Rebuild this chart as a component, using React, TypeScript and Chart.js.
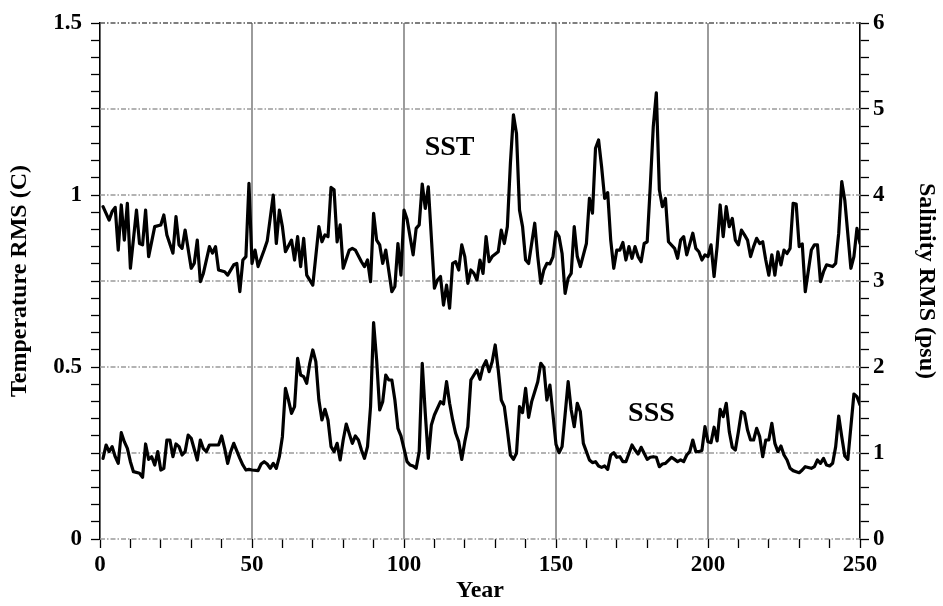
import React, { useEffect, useRef } from 'react';
import { Chart, registerables } from 'chart.js';

Chart.register(...registerables);

// ---------- data ----------
const sstYears = [
  1, 3, 4, 5, 6, 7, 8, 9, 10, 12, 13, 14, 15, 16, 18, 20, 21, 22, 24, 25, 26, 27, 28, 30, 31, 32, 33, 34, 36, 37, 38, 39,
  41, 42, 44, 45, 46, 47, 48, 49, 50, 51, 52, 54, 55, 57, 58, 59, 60, 61, 63, 64, 65, 66, 67, 68, 70, 72, 73, 74, 75, 76,
  77, 78, 79, 80, 82, 83, 84, 86, 87, 88, 89, 90, 91, 92, 93, 94, 96, 97, 98, 99, 100, 101, 103, 104, 105, 106, 107, 108,
  110, 111, 112, 113, 114, 115, 116, 117, 118, 119, 120, 121, 122, 123, 124, 125, 126, 127, 128, 129, 131, 132, 133, 134,
  135, 136, 137, 138, 139, 140, 141, 143, 144, 145, 146, 147, 148, 149, 150, 151, 152, 153, 154, 155, 156, 157, 158, 160,
  161, 162, 163, 164, 165, 166, 167, 168, 169, 170, 171, 172, 173, 174, 175, 176, 177, 178, 179, 180, 181, 182, 183, 184,
  185, 186, 187, 189, 190, 191, 192, 193, 195, 196, 197, 198, 199, 200, 201, 202, 203, 204, 205, 206, 207, 208, 209, 210,
  211, 212, 213, 214, 215, 216, 217, 218, 219, 220, 221, 222, 223, 224, 225, 226, 227, 228, 229, 230, 231, 232, 234, 235,
  236, 237, 238, 239, 241, 242, 243, 244, 245, 247, 248, 249, 250,
];
const sstValues = [
  0.966, 0.927, 0.952, 0.964, 0.84, 0.971, 0.869, 0.976, 0.787, 0.956, 0.859, 0.855, 0.956, 0.821, 0.908, 0.913, 0.942,
  0.884, 0.831, 0.937, 0.855, 0.845, 0.898, 0.787, 0.801, 0.869, 0.748, 0.772, 0.85, 0.831, 0.85, 0.782,
  0.777, 0.767, 0.797, 0.801, 0.719, 0.811, 0.821, 1.034, 0.801, 0.84, 0.792, 0.84, 0.866, 1.0, 0.859, 0.956, 0.908,
  0.835, 0.869, 0.811, 0.879, 0.792, 0.874, 0.767, 0.738, 0.908, 0.864, 0.884, 0.879, 1.022,
  1.015, 0.864, 0.913, 0.787, 0.84, 0.845, 0.84, 0.806, 0.792, 0.811, 0.748, 0.947, 0.869, 0.855, 0.801, 0.84, 0.719,
  0.734, 0.859, 0.767, 0.956, 0.93, 0.826, 0.903, 0.913, 1.032, 0.961, 1.024,
  0.729, 0.753, 0.763, 0.68, 0.738, 0.671, 0.801, 0.806, 0.782, 0.855, 0.821, 0.743, 0.782, 0.772, 0.753, 0.811, 0.772,
  0.879, 0.806, 0.821, 0.835, 0.898, 0.859, 0.908,
  1.092, 1.233, 1.179, 0.956, 0.908, 0.811, 0.801, 0.918, 0.821, 0.743, 0.782, 0.801, 0.8, 0.82, 0.893, 0.879, 0.83,
  0.714, 0.758, 0.772, 0.908, 0.821, 0.792, 0.859,
  0.99, 0.947, 1.136, 1.16, 1.082, 0.99, 1.007, 0.869, 0.787, 0.84, 0.84, 0.862, 0.811, 0.85, 0.816, 0.85, 0.821, 0.806,
  0.859, 0.864, 1.024, 1.199, 1.297, 1.015,
  0.966, 0.99, 0.864, 0.845, 0.816, 0.869, 0.879, 0.826, 0.889, 0.845, 0.835, 0.811, 0.826, 0.821, 0.855, 0.763, 0.85,
  0.971, 0.879, 0.966, 0.908, 0.932, 0.869, 0.855,
  0.898, 0.884, 0.869, 0.821, 0.85, 0.874, 0.859, 0.864, 0.811, 0.767, 0.826, 0.767, 0.835, 0.797, 0.84, 0.83, 0.845,
  0.976, 0.974, 0.85, 0.858, 0.719, 0.84, 0.855,
  0.855, 0.748, 0.777, 0.797, 0.792, 0.801, 0.889, 1.039, 0.985, 0.787, 0.821, 0.903, 0.859,
];

const sssYears = [
  1, 2, 3, 4, 5, 6, 7, 8, 9, 10, 11, 13, 14, 15, 16, 17, 18, 19, 20, 21, 22, 23, 24, 25, 26, 27, 28, 29, 30, 32, 33, 34,
  35, 36, 37, 39, 40, 41, 42, 43, 44, 46, 47, 48, 49, 50, 52, 53, 54, 55, 56, 57, 58, 59, 60, 61, 62, 63, 64, 65, 66, 67,
  68, 69, 70, 71, 72, 73, 74, 75, 76, 77, 78, 79, 80, 81, 83, 84, 85, 86, 87, 88, 89, 90, 91, 92, 93, 94, 95, 96, 97, 98,
  99, 100, 101, 102, 103, 104, 105, 106, 107, 108, 109, 110, 112, 113, 114, 115, 116, 117, 118, 119, 120, 121, 122, 123,
  124, 125, 126, 127, 128, 129, 130, 131, 132, 133, 134, 135, 136, 137, 138, 139, 140, 141, 142, 143, 144, 145, 146, 147,
  148, 149, 150, 151, 152, 153, 154, 155, 156, 157, 158, 159, 160, 161, 162, 163, 164, 165, 166, 167, 168, 169, 170, 171,
  172, 173, 175, 176, 177, 178, 179, 180, 181, 182, 183, 184, 185, 186, 188, 189, 190, 191, 192, 193, 194, 195, 196, 197,
  198, 199, 200, 201, 202, 203, 204, 205, 206, 207, 208, 209, 210, 211, 212, 213, 214, 215, 216, 217, 218, 219, 220, 221,
  222, 223, 224, 225, 226, 227, 228, 229, 230, 231, 232, 234, 235, 236, 237, 238, 239, 240, 241, 242, 243, 244, 245, 246,
  248, 249, 250,
];
const sssValues = [
  0.938, 1.093, 1.016, 1.074, 0.957, 0.88, 1.236, 1.132, 1.054, 0.899, 0.783, 0.764, 0.717, 1.105, 0.926, 0.957, 0.86,
  1.016, 0.802, 0.822, 1.151, 1.151, 0.957, 1.105, 1.074, 0.977, 1.016, 1.209, 1.171, 0.919, 1.151, 1.05,
  1.016, 1.093, 1.093, 1.093, 1.198, 1.054, 0.88, 1.016, 1.112, 0.938, 0.86, 0.802, 0.81, 0.802, 0.795, 0.872, 0.899,
  0.872, 0.822, 0.88, 0.822, 0.957, 1.19, 1.752, 1.616, 1.461, 1.539, 2.101, 1.907, 1.888,
  1.81, 2.043, 2.198, 2.062, 1.616, 1.384, 1.508, 1.384, 1.074, 1.016, 1.112, 0.919, 1.151, 1.337, 1.112, 1.198, 1.151,
  1.035, 0.938, 1.074, 1.539, 2.516, 2.081, 1.5, 1.597, 1.907, 1.849, 1.849, 1.616, 1.287,
  1.2, 1.05, 0.9, 0.86, 0.849, 0.822, 1.016, 2.043, 1.461, 0.938, 1.326, 1.442, 1.597, 1.57, 1.829, 1.578, 1.384, 1.229,
  1.132, 0.926, 1.132, 1.306, 1.849, 1.907,
  1.965, 1.857, 2.004, 2.074, 1.946, 2.062, 2.256, 1.965, 1.616, 1.539, 1.267, 0.977, 0.926, 0.996, 1.539, 1.469, 1.752,
  1.415, 1.597, 1.713, 1.829, 2.043, 1.996, 1.616,
  1.79, 1.45, 1.1, 1.004, 1.074, 1.45, 1.83, 1.5, 1.306, 1.578, 1.481, 1.112, 1.016, 0.919, 0.888, 0.899, 0.849, 0.833,
  0.849, 0.81, 0.977, 1.004, 0.95, 0.957,
  0.899, 0.899, 1.093, 1.035, 0.988, 1.066, 0.996, 0.926, 0.95, 0.957, 0.95, 0.841, 0.872, 0.88, 0.95, 0.926, 0.899,
  0.919, 0.899, 0.977, 1.016, 1.151, 1.016, 1.016,
  1.03, 1.306, 1.13, 1.12, 1.3, 1.14, 1.508, 1.422, 1.578, 1.248, 1.066, 1.035, 1.248, 1.481, 1.461, 1.267, 1.151, 1.151,
  1.287, 1.19, 0.957, 1.151, 1.151, 1.345,
  1.112, 1.016, 1.081, 0.977, 0.919, 0.822, 0.795, 0.783, 0.771, 0.802, 0.841, 0.822, 0.841, 0.919, 0.88, 0.938, 0.86,
  0.849, 0.88, 1.074, 1.43, 1.19, 0.965, 0.926,
  1.686, 1.655, 1.558,
];

const xMin = 0;
const xMax = 250;
const leftMin = 0;
const leftMax = 1.5;
const rightMin = 0;
const rightMax = 6;
const horizontalGuideLevels = [0, 0.25, 0.5, 0.75, 1, 1.25, 1.5];
const verticalGuideYears = [50, 100, 150, 200];

const annotationTexts = ['SST', 'SSS'];
const annotationX = [115, 181.4];
const annotationY = [1.138, 1.46];
const annotationAxis = ['y', 'y2'];

const FONT = '"Liberation Serif", "Times New Roman", Times, serif';

export default function App() {
  const canvasRef = useRef<HTMLCanvasElement | null>(null);

  useEffect(() => {
    const canvas = canvasRef.current;
    if (!canvas) return;

    const guides = {
      id: 'guides',
      beforeDatasetsDraw(chart: any) {
        const { ctx, chartArea: ca, scales } = chart;
        ctx.save();
        ctx.setLineDash([]);
        ctx.strokeStyle = '#666666';
        ctx.lineWidth = 1.3;
        for (const yr of verticalGuideYears) {
          const x = scales.x.getPixelForValue(yr);
          ctx.beginPath();
          ctx.moveTo(x, ca.top);
          ctx.lineTo(x, ca.bottom);
          ctx.stroke();
        }
        ctx.lineWidth = 1.5;
        ctx.setLineDash([5, 2, 1.5, 2]);
        for (const v of horizontalGuideLevels) {
          const y = scales.y.getPixelForValue(v);
          ctx.strokeStyle = v === leftMax ? '#555555' : '#9a9a9a';
          ctx.beginPath();
          ctx.moveTo(ca.left, y);
          ctx.lineTo(ca.right, y);
          ctx.stroke();
        }
        ctx.restore();
      },
      afterDatasetsDraw(chart: any) {
        const { ctx, scales } = chart;
        ctx.save();
        ctx.fillStyle = '#000';
        ctx.font = `bold 28px ${FONT}`;
        ctx.textAlign = 'center';
        ctx.textBaseline = 'middle';
        annotationTexts.forEach((t, i) => {
          const x = scales.x.getPixelForValue(annotationX[i]);
          const y = scales[annotationAxis[i]].getPixelForValue(annotationY[i]);
          ctx.fillText(t, x, y);
        });
        ctx.restore();
      },
    };

    const tickFont = { family: FONT, size: 23, weight: 'bold' as const };
    const titleFont = { family: FONT, size: 24, weight: 'bold' as const };

    const chart = new Chart(canvas, {
      type: 'line',
      data: {
        datasets: [
          {
            label: 'SST',
            data: sstYears.map((x, i) => ({ x, y: sstValues[i] })),
            yAxisID: 'y',
            borderColor: '#000',
            borderWidth: 3.2,
            pointRadius: 0,
            tension: 0,
            borderJoinStyle: 'round',
            borderCapStyle: 'round',
          },
          {
            label: 'SSS',
            data: sssYears.map((x, i) => ({ x, y: sssValues[i] })),
            yAxisID: 'y2',
            borderColor: '#000',
            borderWidth: 3.2,
            pointRadius: 0,
            tension: 0,
            borderJoinStyle: 'round',
            borderCapStyle: 'round',
          },
        ],
      },
      options: {
        animation: false,
        responsive: false,
        devicePixelRatio: 1,
        layout: { padding: { top: 23, left: 0, right: 0, bottom: 0 } },
        plugins: { legend: { display: false }, tooltip: { enabled: false } },
        scales: {
          x: {
            type: 'linear',
            position: 'bottom',
            min: xMin,
            max: xMax,
            afterFit: (s: any) => { s.height = 67; },
            ticks: {
              stepSize: 10,
              autoSkip: false,
              maxRotation: 0,
              minRotation: 0,
              color: '#000',
              font: tickFont,
              padding: 3,
              callback: (v: any) => (Number(v) % 50 === 0 ? String(v) : ''),
            },
            grid: { drawOnChartArea: false, drawTicks: true, tickLength: 9, tickColor: '#000', tickWidth: 1.3 },
            border: { display: false },
            title: { display: true, text: 'Year', color: '#000', font: titleFont, padding: { top: 0, bottom: 1 } },
          },
          y: {
            type: 'linear',
            position: 'left',
            min: leftMin,
            max: leftMax,
            afterFit: (s: any) => { s.width = 100; },
            ticks: {
              stepSize: 0.05,
              maxTicksLimit: 1000,
              autoSkip: false,
              color: '#000',
              font: tickFont,
              padding: 9,
              callback: (v: any) => {
                const n = Number(v);
                const r = Math.round(n * 2) / 2;
                return Math.abs(n - r) < 1e-6 ? String(r) : '';
              },
            },
            grid: { drawOnChartArea: false, drawTicks: true, tickLength: 9, tickColor: '#000', tickWidth: 1.3 },
            border: { display: true, color: '#000', width: 1.6 },
            title: { display: true, text: 'Temperature RMS (C)', color: '#000', font: titleFont, padding: { top: 5, bottom: 0 } },
          },
          y2: {
            type: 'linear',
            position: 'right',
            min: rightMin,
            max: rightMax,
            afterFit: (s: any) => { s.width = 83; },
            ticks: {
              stepSize: 0.2,
              maxTicksLimit: 1000,
              autoSkip: false,
              color: '#000',
              font: tickFont,
              padding: 4,
              callback: (v: any) => {
                const n = Number(v);
                const r = Math.round(n);
                return Math.abs(n - r) < 1e-6 ? String(r) : '';
              },
            },
            grid: { drawOnChartArea: false, drawTicks: true, tickLength: 9, tickColor: '#000', tickWidth: 1.3 },
            border: { display: true, color: '#000', width: 1.6 },
            title: { display: true, text: 'Salinity RMS (psu)', color: '#000', font: titleFont, padding: { top: 2, bottom: 0 } },
          },
        },
      },
      plugins: [guides],
    } as any);

    return () => chart.destroy();
  }, []);

  return (
    <div style={{ position: 'fixed', left: 0, top: 0, width: 943, height: 606, background: '#fff' }}>
      <canvas ref={canvasRef} width={943} height={606} style={{ display: 'block' }} />
    </div>
  );
}
